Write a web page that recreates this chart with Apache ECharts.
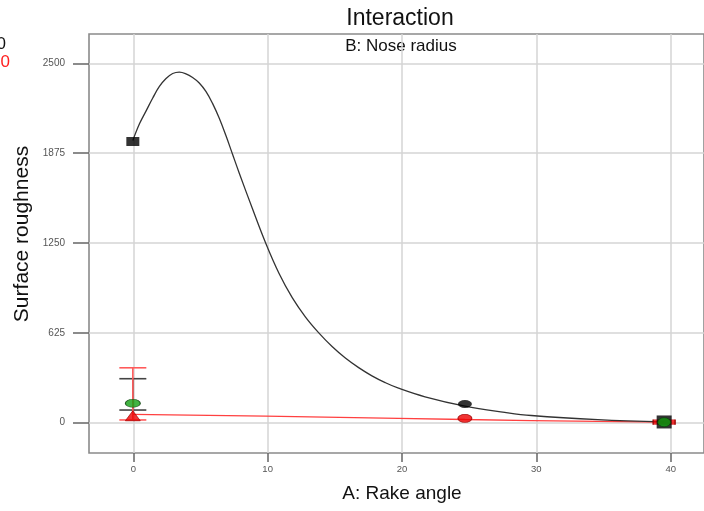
<!DOCTYPE html>
<html>
<head>
<meta charset="utf-8">
<script src="https://cdn.jsdelivr.net/npm/echarts/dist/echarts.min.js"></script>
<style>html,body{margin:0;padding:0;background:#fff;}#c{width:704px;height:511px;}</style>
</head>
<body>
<div id="c"></div>
<script>
// ---- data ----
const xTicks = [0, 10, 20, 30, 40];
const yTicks = [0, 625, 1250, 1875, 2500];
// fitted curve, B- level (black)
const curveX = [0,0.5,1,1.5,2,2.5,3,3.5,4,4.5,5,5.5,6,6.5,7,7.5,8,9,10,11,12,13,14,15,16,17,18,19,20,22,25,28,30,35,40];
const curveY = [1964,2080,2170,2260,2340,2395,2430,2440,2428,2402,2364,2305,2222,2120,2000,1870,1740,1490,1250,1040,870,735,625,530,450,383,326,279,240,180,115,72,50,21,5];
// fitted line, B+ level (red)
const redLineX = [0,10,20,25,30,40];
const redLineY = [58,45,30,22,15,4];
// design points
const blackPtsX = [0,25,40];
const blackPtsY = [1957,130,5];
const redPtsX = [0,25,40];
const redPtsY = [48,30,4];
const greenPtsX = [0,40];
const greenPtsY = [135,3];
// LSD bars at x = 0
const barX = [0];
const blackBarLo = [88];
const blackBarHi = [306];
const redBarLo = [19];
const redBarHi = [382];

const zip = (a,b) => a.map((v,i)=>[v,b[i]]);

function errBar(params, api){
  const x = api.value(0), lo = api.value(1), hi = api.value(2);
  const pLo = api.coord([x, lo]), pHi = api.coord([x, hi]);
  const hw = 13.5;
  const st = {stroke: api.visual('color'), lineWidth: 1.6};
  return {type:'group', children:[
    {type:'line', shape:{x1:pLo[0],y1:pLo[1],x2:pHi[0],y2:pHi[1]}, style:st},
    {type:'line', shape:{x1:pLo[0]-hw,y1:pLo[1],x2:pLo[0]+hw,y2:pLo[1]}, style:st},
    {type:'line', shape:{x1:pHi[0]-hw,y1:pHi[1],x2:pHi[0]+hw,y2:pHi[1]}, style:st}
  ]};
}

const chart = echarts.init(document.getElementById('c'), null, {renderer:'canvas'});
const FONT = '"Liberation Sans", Arial, sans-serif';
const option = {
  animation:false,
  backgroundColor:'#fff',
  grid:[
    {left:89, right:-7, top:34, bottom:58, show:true, borderColor:'#8a8a8a', borderWidth:1.6, backgroundColor:'transparent'},
    {left:89, right:-7, top:63.3, bottom:88.3},
    {left:133.3, right:33.3, top:34, bottom:58}
  ],
  xAxis:[
    {gridIndex:0, type:'value', min:-3.3, max:43, show:false},
    {gridIndex:1, type:'value', min:0, max:1, show:false},
    {gridIndex:2, type:'value', min:xTicks[0], max:xTicks[xTicks.length-1], interval:10, position:'bottom',
     axisLine:{show:false},
     axisTick:{show:true, inside:false, length:9, lineStyle:{color:'#666', width:1.5}},
     axisLabel:{margin:11, fontSize:9.5, color:'#555', fontFamily:FONT, formatter:v=>String(v)},
     splitLine:{show:true, lineStyle:{color:'#d4d4d4', width:1.5}}}
  ],
  yAxis:[
    {gridIndex:0, type:'value', min:-211, max:2705, show:false},
    {gridIndex:1, type:'value', min:yTicks[0], max:yTicks[yTicks.length-1], interval:625, position:'left',
     axisLine:{show:false},
     axisTick:{show:true, inside:false, length:16, lineStyle:{color:'#666', width:1.5}},
     axisLabel:{margin:24, fontSize:10, color:'#555', fontFamily:FONT, formatter:v=>String(v)},
     splitLine:{show:true, lineStyle:{color:'#d4d4d4', width:1.5}}},
    {gridIndex:2, type:'value', min:0, max:1, show:false}
  ],
  graphic:[
    {type:'text', x:400, y:19, style:{text:'Interaction', align:'center', verticalAlign:'middle', font:'23px '+FONT, fill:'#111'}},
    {type:'text', x:401, y:46, style:{text:'B: Nose radius', align:'center', verticalAlign:'middle', font:'17px '+FONT, fill:'#111'}},
    {type:'text', x:402, y:494, style:{text:'A: Rake angle', align:'center', verticalAlign:'middle', font:'19px '+FONT, fill:'#111'}},
    {type:'text', x:22, y:234, rotation:Math.PI/2, style:{text:'Surface roughness', align:'center', verticalAlign:'middle', font:'21px '+FONT, fill:'#111'}},
    {type:'text', x:6, y:44, style:{text:'0', align:'right', verticalAlign:'middle', font:'17px '+FONT, fill:'#111'}},
    {type:'text', x:10, y:62, style:{text:'0', align:'right', verticalAlign:'middle', font:'17px '+FONT, fill:'#ff2020'}}
  ],
  series:[
    {type:'custom', xAxisIndex:0, yAxisIndex:0, renderItem:errBar, itemStyle:{color:'#444'},
     data: barX.map((x,i)=>[x, blackBarLo[i], blackBarHi[i]]), z:2},
    {type:'custom', xAxisIndex:0, yAxisIndex:0, renderItem:errBar, itemStyle:{color:'#ff5a5a'},
     data: barX.map((x,i)=>[x, redBarLo[i], redBarHi[i]]), z:3},
    {type:'line', xAxisIndex:0, yAxisIndex:0, data:zip(redLineX, redLineY), showSymbol:false, smooth:false,
     lineStyle:{color:'#ff4040', width:1.3}, z:4},
    {type:'line', xAxisIndex:0, yAxisIndex:0, data:zip(curveX, curveY), showSymbol:false, smooth:0.4,
     lineStyle:{color:'#333', width:1.3}, z:4},
    {type:'scatter', xAxisIndex:0, yAxisIndex:0, z:5,
     data: zip(redPtsX, redPtsY).map((p,i)=>({value:p,
       symbol:['triangle','circle','rect'][i], symbolSize:[[15,10],[14,8],[22,5]][i]})),
     itemStyle:{color:'#ee0000', borderColor:'#990000', borderWidth:0.8}},
    {type:'scatter', xAxisIndex:0, yAxisIndex:0, z:6,
     data: zip(blackPtsX, blackPtsY).map((p,i)=>({value:p,
       symbol:['rect','circle','rect'][i], symbolSize:[[13,9],[14,8],[15,13]][i]})),
     itemStyle:{color:'#000'}},
    {type:'scatter', xAxisIndex:0, yAxisIndex:0, z:7,
     data: zip(greenPtsX, greenPtsY).map((p,i)=>({value:p,
       symbol:'circle', symbolSize:[[15,8],[13,9]][i]})),
     itemStyle:{color:'#12a012', borderColor:'#0a3a0a', borderWidth:0.8}}
  ]
};
chart.setOption(option);
</script>
</body>
</html>
